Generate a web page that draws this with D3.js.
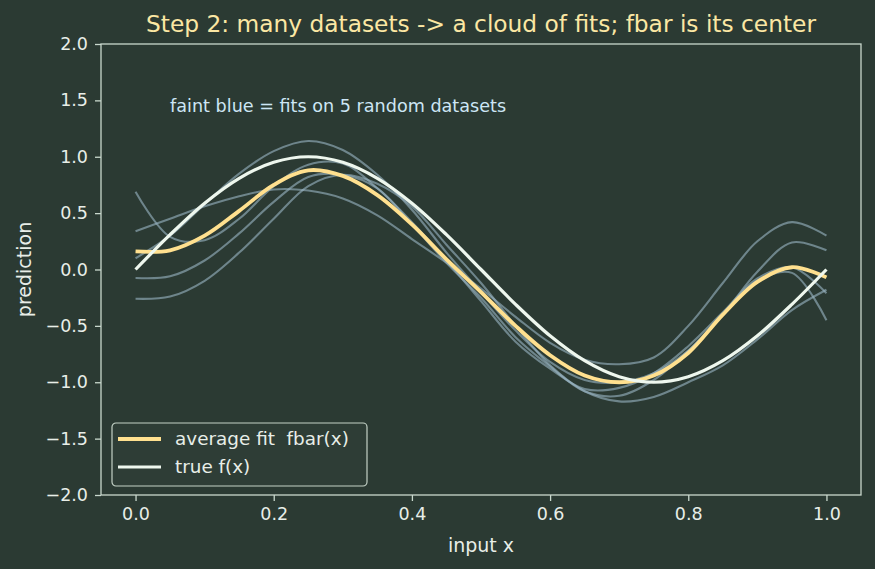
<!DOCTYPE html>
<html>
<head>
<meta charset="utf-8">
<script src="https://cdn.jsdelivr.net/npm/d3@7"></script>
<style>
  body { margin: 0; background: #2b3a33; }
  svg { display: block; font-family: "DejaVu Sans", sans-serif; }
</style>
</head>
<body>
<div class="container"></div>
<script>
// x grid the curves were read on
const xs = [0, 0.05, 0.1, 0.15, 0.2, 0.25, 0.3, 0.35, 0.4, 0.45, 0.5,
            0.55, 0.6, 0.65, 0.7, 0.75, 0.8, 0.85, 0.9, 0.95, 1.0];

// five faint fits (one per random dataset)
const fitA = [0.69, 0.29, 0.26, 0.45, 0.74, 0.93, 0.94, 0.72, 0.42, 0.08, -0.28,
              -0.64, -0.88, -1.06, -1.05, -0.92, -0.68, -0.38, -0.08, 0.02, -0.21];
const fitB = [0.34, 0.45, 0.56, 0.65, 0.71, 0.70, 0.63, 0.48, 0.27, 0.06, -0.17,
              -0.42, -0.65, -0.80, -0.84, -0.78, -0.50, -0.12, 0.25, 0.42, 0.30];
const fitC = [0.10, 0.30, 0.58, 0.85, 1.05, 1.14, 1.06, 0.84, 0.53, 0.15, -0.20,
              -0.54, -0.82, -0.98, -1.00, -0.92, -0.72, -0.40, -0.02, 0.24, 0.17];
const fitD = [-0.075, -0.06, 0.08, 0.32, 0.60, 0.82, 0.84, 0.72, 0.40, 0.06, -0.25,
              -0.60, -0.86, -1.08, -1.12, -0.98, -0.72, -0.40, -0.10, -0.03, -0.45];
const fitE = [-0.26, -0.24, -0.10, 0.15, 0.45, 0.74, 0.84, 0.76, 0.56, 0.22, -0.12,
              -0.50, -0.85, -1.08, -1.17, -1.13, -1.00, -0.85, -0.62, -0.36, -0.18];

// average fit and true function
const fbar = [0.16, 0.17, 0.30, 0.52, 0.75, 0.88, 0.83, 0.66, 0.40, 0.09, -0.20,
              -0.50, -0.76, -0.94, -1.00, -0.94, -0.74, -0.40, -0.11, 0.02, -0.07];
const trueF = [0, 0.309, 0.588, 0.809, 0.951, 1.0, 0.951, 0.809, 0.588, 0.309, 0,
               -0.309, -0.588, -0.809, -0.951, -1.0, -0.951, -0.809, -0.588, -0.309, 0];

const xTicks = [0, 0.2, 0.4, 0.6, 0.8, 1.0];
const yTicks = [-2, -1.5, -1, -0.5, 0, 0.5, 1, 1.5, 2];

const width = 875;
const height = 569;
const margin = { top: 44, right: 14, bottom: 74, left: 101 };
const innerW = width - margin.left - margin.right;
const innerH = height - margin.top - margin.bottom;

const axisColor = '#c9d8cd';
const textColor = '#e8eee8';

const svg = d3.select('.container')
    .append('svg')
    .attr('width', width)
    .attr('height', height);

svg.append('rect')
    .attr('width', width)
    .attr('height', height)
    .attr('fill', '#2b3a33');

const g = svg.append('g')
    .attr('transform', `translate(${margin.left}, ${margin.top})`);

const xScale = d3.scaleLinear().domain([-0.05, 1.05]).range([0, innerW]);
const yScale = d3.scaleLinear().domain([-2, 2]).range([innerH, 0]);

const line = ys => d3.line()
    .x((d, i) => xScale(xs[i]))
    .y(d => yScale(d))
    .curve(d3.curveCatmullRom.alpha(0.5))(ys);

// faint fits
[fitA, fitB, fitC, fitD, fitE].forEach(f => {
    g.append('path')
        .attr('d', line(f))
        .attr('fill', 'none')
        .attr('stroke', '#98b3c2')
        .attr('stroke-opacity', 0.62)
        .attr('stroke-width', 2.1);
});

g.append('path')
    .attr('d', line(fbar))
    .attr('fill', 'none')
    .attr('stroke', '#ffe08f')
    .attr('stroke-width', 3.8);

g.append('path')
    .attr('d', line(trueF))
    .attr('fill', 'none')
    .attr('stroke', '#eef7ee')
    .attr('stroke-width', 3.2);

// axes
const xAxis = d3.axisBottom(xScale).tickValues(xTicks).tickFormat(d3.format('.1f'))
    .tickSize(6).tickPadding(7);
const yAxis = d3.axisLeft(yScale).tickValues(yTicks)
    .tickFormat(d => d3.format('.1f')(d).replace('-', '\u2212'))
    .tickSize(6).tickPadding(7);

const gx = g.append('g').attr('transform', `translate(0, ${innerH})`).call(xAxis);
const gy = g.append('g').call(yAxis);

[gx, gy].forEach(a => {
    a.select('.domain').remove();
    a.selectAll('line').attr('stroke', axisColor).attr('stroke-width', 1.3);
    a.selectAll('text').attr('fill', textColor).style('font-size', '17.5px')
        .style('font-family', '"DejaVu Sans", sans-serif');
});

g.append('rect')
    .attr('width', innerW)
    .attr('height', innerH)
    .attr('fill', 'none')
    .attr('stroke', axisColor)
    .attr('stroke-width', 1.3);

// annotation
g.append('text')
    .attr('x', xScale(0.05))
    .attr('y', yScale(1.4))
    .attr('fill', '#cde6f5')
    .style('font-size', '17.6px')
    .text('faint blue = fits on 5 random datasets');

// title & labels
svg.append('text')
    .attr('x', margin.left + innerW / 2)
    .attr('y', 32)
    .attr('text-anchor', 'middle')
    .attr('fill', '#fbe7a3')
    .style('font-size', '23.3px')
    .text('Step 2: many datasets -> a cloud of fits; fbar is its center');

svg.append('text')
    .attr('x', margin.left + innerW / 2)
    .attr('y', 552)
    .attr('text-anchor', 'middle')
    .attr('fill', textColor)
    .style('font-size', '19px')
    .text('input x');

svg.append('text')
    .attr('transform', `translate(31, ${margin.top + innerH / 2}) rotate(-90)`)
    .attr('text-anchor', 'middle')
    .attr('fill', textColor)
    .style('font-size', '19px')
    .text('prediction');

// legend
const legend = g.append('g').attr('transform', 'translate(11, 379)');
legend.append('rect')
    .attr('width', 255)
    .attr('height', 63)
    .attr('rx', 4)
    .attr('fill', '#2e3d36')
    .attr('stroke', '#c3d1c6')
    .attr('stroke-width', 1.2);

const legendItems = [
    { label: 'average fit\u00a0\u00a0fbar(x)', color: '#ffe08f', w: 3.8 },
    { label: 'true f(x)', color: '#eef7ee', w: 3.2 }
];
legendItems.forEach((d, i) => {
    const y = 16 + i * 28;
    legend.append('line')
        .attr('x1', 6).attr('x2', 49)
        .attr('y1', y).attr('y2', y)
        .attr('stroke', d.color)
        .attr('stroke-width', d.w);
    legend.append('text')
        .attr('x', 63)
        .attr('y', y + 6)
        .attr('fill', textColor)
        .style('font-size', '18.4px')
        .text(d.label);
});
</script>
</body>
</html>
